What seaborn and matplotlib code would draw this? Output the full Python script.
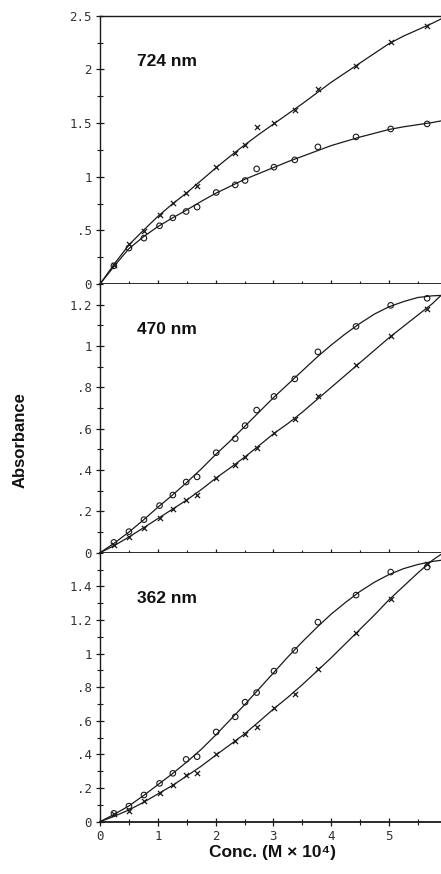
import matplotlib
matplotlib.use("Agg")
import matplotlib.pyplot as plt
from matplotlib.ticker import MultipleLocator
import seaborn as sns

# measured points (Conc. M x 10^4)
conc = [0.24, 0.50, 0.76, 1.03, 1.26, 1.49, 1.68, 2.01, 2.34, 2.51,
        2.71, 3.01, 3.37, 3.77, 4.43, 5.03, 5.66]

# 724 nm
abs724_x = [0.18, 0.37, 0.49, 0.645, 0.754, 0.847, 0.915, 1.095, 1.225, 1.297,
            1.467, 1.498, 1.622, 1.815, 2.035, 2.252, 2.404]
abs724_o = [0.17, 0.335, 0.428, 0.543, 0.617, 0.676, 0.717, 0.853, 0.924, 0.965,
            1.073, 1.089, 1.157, 1.278, 1.371, 1.445, 1.492]
# 470 nm
abs470_o = [0.05, 0.102, 0.16, 0.228, 0.279, 0.342, 0.367, 0.484, 0.552, 0.615,
            0.69, 0.756, 0.841, 0.972, 1.095, 1.197, 1.231]
abs470_x = [0.037, 0.078, 0.121, 0.168, 0.21, 0.255, 0.279, 0.363, 0.426, 0.462,
            0.509, 0.577, 0.646, 0.759, 0.909, 1.047, 1.179]
# 362 nm
abs362_o = [0.05, 0.093, 0.159, 0.228, 0.288, 0.371, 0.387, 0.534, 0.624, 0.711,
            0.768, 0.896, 1.019, 1.187, 1.348, 1.485, 1.515]
abs362_x = [0.044, 0.066, 0.123, 0.173, 0.218, 0.28, 0.292, 0.401, 0.481, 0.524,
            0.566, 0.677, 0.761, 0.909, 1.124, 1.326, 1.533]

# fitted curves
fit_x = [0, 0.25, 0.5, 0.75, 1.0, 1.25, 1.5, 1.75, 2.0, 2.25, 2.5, 2.75, 3.0,
         3.25, 3.5, 3.75, 4.0, 4.25, 4.5, 4.75, 5.0, 5.25, 5.5, 5.75, 5.9]
fit724_x = [0, 0.19, 0.365, 0.50, 0.63, 0.745, 0.85, 0.965, 1.08, 1.19, 1.295, 1.395, 1.49,
            1.585, 1.68, 1.78, 1.88, 1.97, 2.06, 2.15, 2.24, 2.31, 2.37, 2.43, 2.47]
fit724_o = [0, 0.17, 0.33, 0.44, 0.535, 0.615, 0.69, 0.77, 0.845, 0.91, 0.975, 1.03, 1.085,
            1.14, 1.19, 1.24, 1.29, 1.33, 1.37, 1.405, 1.44, 1.465, 1.485, 1.505, 1.52]
fit470_o = [0, 0.047, 0.10, 0.158, 0.22, 0.278, 0.34, 0.405, 0.475, 0.54, 0.61, 0.68, 0.75,
            0.815, 0.88, 0.945, 1.005, 1.06, 1.11, 1.155, 1.19, 1.215, 1.235, 1.243, 1.245]
fit470_x = [0, 0.035, 0.076, 0.12, 0.165, 0.21, 0.255, 0.305, 0.36, 0.41, 0.462, 0.518, 0.575,
            0.625, 0.68, 0.74, 0.80, 0.86, 0.92, 0.98, 1.04, 1.095, 1.15, 1.205, 1.245]
fit362_o = [0, 0.045, 0.094, 0.155, 0.22, 0.285, 0.355, 0.43, 0.515, 0.605, 0.695, 0.79, 0.885,
            0.98, 1.07, 1.155, 1.235, 1.305, 1.37, 1.425, 1.47, 1.505, 1.53, 1.548, 1.555]
fit362_x = [0, 0.033, 0.07, 0.115, 0.165, 0.215, 0.272, 0.33, 0.395, 0.458, 0.522, 0.595, 0.67,
            0.74, 0.815, 0.895, 0.975, 1.06, 1.145, 1.23, 1.32, 1.40, 1.48, 1.555, 1.59]

wavelengths = ["724 nm", "470 nm", "362 nm"]
y_tops = [2.5, 1.3, 1.6]
y_minor = [0.25, 0.1, 0.1]
yticks = [[0, 0.5, 1, 1.5, 2, 2.5],
          [0, 0.2, 0.4, 0.6, 0.8, 1.0, 1.2],
          [0, 0.2, 0.4, 0.6, 0.8, 1.0, 1.2, 1.4]]
ylabels = [["0", ".5", "1", "1.5", "2", "2.5"],
           ["0", ".2", ".4", ".6", ".8", "1", "1.2"],
           ["0", ".2", ".4", ".6", ".8", "1", "1.2", "1.4"]]
xticks = [0, 1, 2, 3, 4, 5]
xlabels = ["0", "1", "2", "3", "4", "5"]

sns.set_style("ticks")
plt.rcParams['font.family'] = ['Liberation Sans', 'DejaVu Sans']

ink = '#1a1a1a'
fig = plt.figure(figsize=(4.41, 8.74), dpi=100)
boxes = [(0.2268, 0.675, 0.7732, 0.307),
         (0.2268, 0.3676, 0.7732, 0.3074),
         (0.2268, 0.0598, 0.7732, 0.3078)]

panels = [(abs724_x, abs724_o, fit724_x, fit724_o),
          (abs470_x, abs470_o, fit470_x, fit470_o),
          (abs362_x, abs362_o, fit362_x, fit362_o)]

for i, (box, (px, po, fx, fo)) in enumerate(zip(boxes, panels)):
    ax = fig.add_axes(box)
    sns.lineplot(x=fit_x, y=fx, ax=ax, color=ink, lw=0.9, estimator=None, sort=False)
    sns.lineplot(x=fit_x, y=fo, ax=ax, color=ink, lw=0.9, estimator=None, sort=False)
    sns.scatterplot(x=conc, y=px, ax=ax, marker='x', color=ink, s=14, linewidth=0.9)
    sns.scatterplot(x=conc, y=po, ax=ax, marker='o', facecolor='none',
                    edgecolor=ink, s=16, linewidth=0.8)
    ax.set_xlim(0, 5.9)
    ax.set_ylim(0, y_tops[i])
    ax.set_facecolor('white')
    ax.set_yticks(yticks[i])
    ax.set_yticklabels(ylabels[i], family='DejaVu Sans Mono', fontsize=9, color='#333333')
    ax.yaxis.set_minor_locator(MultipleLocator(y_minor[i]))
    ax.set_xticks(xticks)
    ax.xaxis.set_minor_locator(MultipleLocator(0.5))
    if i == 2:
        ax.set_xticklabels(xlabels, family='DejaVu Sans Mono', fontsize=9, color='#333333')
    else:
        ax.set_xticklabels([])
    ax.tick_params(which='major', direction='inout', length=6, width=0.9, color=ink, pad=3)
    ax.tick_params(which='minor', direction='inout', length=4, width=0.8, color=ink)
    ax.spines['right'].set_visible(False)
    ax.spines['top'].set_visible(i == 0)
    for s in ['left', 'bottom', 'top']:
        ax.spines[s].set_color(ink)
        ax.spines[s].set_linewidth(1.0)
    ax.spines['bottom'].set_linewidth(1.3)
    ax.text(0.108, 0.83, wavelengths[i], transform=ax.transAxes, fontsize=12.5,
            fontweight='bold', va='center', ha='left', color='#111111')
    ax.set_xlabel('')
    ax.set_ylabel('')

fig.text(0.045, 0.497, 'Absorbance', rotation=90, fontsize=12, fontweight='bold',
         ha='center', va='center', color='#111111')
fig.text(0.619, 0.025, 'Conc. (M × 10⁴)', fontsize=12.5, fontweight='bold',
         ha='center', va='center', color='#111111')

fig.savefig('out.png', dpi=100, facecolor='white')
